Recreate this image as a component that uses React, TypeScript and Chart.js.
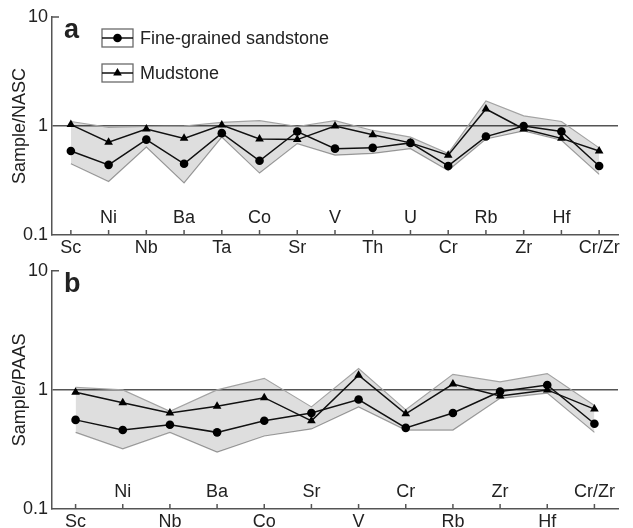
import React, { useEffect, useRef } from 'react';
import { Chart, registerables } from 'chart.js';

Chart.register(...registerables);

// ---------- Data ----------
const catsA = ['Sc', 'Ni', 'Nb', 'Ba', 'Ta', 'Co', 'Sr', 'V', 'Th', 'U', 'Cr', 'Rb', 'Zr', 'Hf', 'Cr/Zr'];
const sandA = [0.59, 0.44, 0.75, 0.45, 0.86, 0.48, 0.89, 0.62, 0.63, 0.70, 0.43, 0.80, 1.0, 0.89, 0.43];
const mudA = [1.03, 0.71, 0.94, 0.77, 1.02, 0.76, 0.75, 1.0, 0.83, 0.70, 0.54, 1.43, 0.94, 0.77, 0.59];
const upperA = [1.10, 0.97, 0.99, 1.0, 1.08, 1.12, 0.99, 1.12, 0.91, 0.79, 0.56, 1.70, 1.24, 1.10, 0.63];
const lowerA = [0.45, 0.31, 0.64, 0.30, 0.79, 0.37, 0.69, 0.54, 0.56, 0.62, 0.39, 0.76, 0.90, 0.74, 0.36];

const catsB = ['Sc', 'Ni', 'Nb', 'Ba', 'Co', 'Sr', 'V', 'Cr', 'Rb', 'Zr', 'Hf', 'Cr/Zr'];
const sandB = [0.56, 0.46, 0.51, 0.44, 0.55, 0.64, 0.83, 0.48, 0.64, 0.97, 1.10, 0.52];
const mudB = [0.955, 0.78, 0.64, 0.73, 0.86, 0.55, 1.33, 0.63, 1.12, 0.89, 1.0, 0.69];
const upperB = [1.05, 1.0, 0.66, 1.0, 1.25, 0.72, 1.51, 0.68, 1.35, 1.17, 1.37, 0.74];
const lowerB = [0.44, 0.32, 0.44, 0.30, 0.41, 0.47, 0.72, 0.46, 0.46, 0.85, 0.94, 0.44];

const yTicks = [0.1, 1, 10];
const legendLabels = ['Fine-grained sandstone', 'Mudstone'];

const FONT = '"Liberation Sans", Arial, sans-serif';
const TEXT = '#222';
const AXIS = '#555';

function drawTriangle(ctx: CanvasRenderingContext2D, x: number, y: number, r: number) {
  let rad = 0;
  ctx.beginPath();
  ctx.moveTo(x + Math.sin(rad) * r, y - Math.cos(rad) * r);
  rad += (2 * Math.PI) / 3;
  ctx.lineTo(x + Math.sin(rad) * r, y - Math.cos(rad) * r);
  rad += (2 * Math.PI) / 3;
  ctx.lineTo(x + Math.sin(rad) * r, y - Math.cos(rad) * r);
  ctx.closePath();
  ctx.fill();
}

interface PanelProps {
  cats: string[];
  sand: number[];
  mud: number[];
  upper: number[];
  lower: number[];
  title: string;
  letter: string;
  letterY: number;
  height: number;
  padTop: number;
  xHeight: number;
  legend: boolean;
}

function Panel(p: PanelProps) {
  const ref = useRef<HTMLCanvasElement | null>(null);

  useEffect(() => {
    if (!ref.current) return;
    const cats = p.cats;
    const overlay = {
      id: 'overlay',
      afterDraw(chart: any) {
        const ctx: CanvasRenderingContext2D = chart.ctx;
        const { left, top, bottom } = chart.chartArea;
        const xs = chart.scales.x;
        ctx.save();
        ctx.strokeStyle = AXIS;
        ctx.lineWidth = 1.5;
        ctx.beginPath();
        for (let i = 0; i < cats.length; i++) {
          const x = xs.getPixelForValue(i);
          ctx.moveTo(x, bottom);
          ctx.lineTo(x, bottom - 5);
        }
        ctx.moveTo(left - 0.75, top);
        ctx.lineTo(left + 7, top);
        ctx.stroke();

        ctx.fillStyle = TEXT;
        ctx.font = `18px ${FONT}`;
        ctx.textAlign = 'center';
        ctx.textBaseline = 'middle';
        for (let i = 1; i < cats.length; i += 2) {
          ctx.fillText(cats[i], xs.getPixelForValue(i), bottom - 17);
        }

        ctx.font = `bold 27px ${FONT}`;
        ctx.textAlign = 'left';
        ctx.textBaseline = 'alphabetic';
        ctx.fillText(p.letter, 64, p.letterY);

        if (p.legend) {
          const items = [
            { cy: 38, ty: 39, tri: false },
            { cy: 73, ty: 74, tri: true },
          ];
          items.forEach((it, k) => {
            ctx.strokeStyle = '#6a6a6a';
            ctx.lineWidth = 1.3;
            ctx.fillStyle = '#fff';
            ctx.fillRect(102, it.cy - 9, 31, 18);
            ctx.strokeRect(102, it.cy - 9, 31, 18);
            ctx.strokeStyle = '#111';
            ctx.lineWidth = 1.5;
            ctx.beginPath();
            ctx.moveTo(102, it.cy);
            ctx.lineTo(133, it.cy);
            ctx.stroke();
            ctx.fillStyle = '#000';
            if (it.tri) {
              drawTriangle(ctx, 117.5, it.cy, 5);
            } else {
              ctx.beginPath();
              ctx.arc(117.5, it.cy, 4.3, 0, Math.PI * 2);
              ctx.fill();
            }
            ctx.fillStyle = TEXT;
            ctx.font = `18px ${FONT}`;
            ctx.textBaseline = 'middle';
            ctx.fillText(legendLabels[k], 140, it.ty);
          });
        }
        ctx.restore();
      },
    };

    const chart = new Chart(ref.current, {
      type: 'line',
      data: {
        labels: cats,
        datasets: [
          {
            label: legendLabels[1],
            data: p.mud,
            borderColor: '#111',
            borderWidth: 1.5,
            pointStyle: 'triangle',
            pointRadius: 5,
            pointBackgroundColor: '#000',
            pointBorderColor: '#000',
            pointBorderWidth: 0,
            fill: false,
            tension: 0,
          },
          {
            label: legendLabels[0],
            data: p.sand,
            borderColor: '#111',
            borderWidth: 1.5,
            pointStyle: 'circle',
            pointRadius: 4.3,
            pointBackgroundColor: '#000',
            pointBorderColor: '#000',
            pointBorderWidth: 0,
            fill: false,
            tension: 0,
          },
          {
            label: 'upper',
            data: p.upper,
            borderColor: '#a3a3a3',
            borderWidth: 1.2,
            pointRadius: 0,
            backgroundColor: 'rgba(0,0,0,0.13)',
            fill: '+1',
            tension: 0,
          },
          {
            label: 'lower',
            data: p.lower,
            borderColor: '#a3a3a3',
            borderWidth: 1.2,
            pointRadius: 0,
            fill: false,
            tension: 0,
          },
        ],
      },
      options: {
        animation: false,
        responsive: false,
        devicePixelRatio: 1,
        layout: { padding: { top: p.padTop, right: 15, left: 0, bottom: 0 } },
        plugins: { legend: { display: false }, tooltip: { enabled: false } },
        scales: {
          x: {
            type: 'category',
            offset: true,
            grid: { display: false, drawTicks: false },
            border: { display: true, color: AXIS, width: 1.5 },
            ticks: {
              autoSkip: false,
              maxRotation: 0,
              minRotation: 0,
              padding: 2,
              color: TEXT,
              font: { size: 18, family: FONT },
              callback: (_v: any, i: number) => (i % 2 === 0 ? cats[i] : ''),
            },
            afterFit: (s: any) => {
              s.height = p.xHeight;
            },
          },
          y: {
            type: 'logarithmic',
            min: 0.1,
            max: 10,
            afterBuildTicks: (s: any) => {
              s.ticks = yTicks.map((v) => ({ value: v }));
            },
            afterFit: (s: any) => {
              s.width = 52;
            },
            ticks: {
              padding: 4,
              color: TEXT,
              font: { size: 18, family: FONT },
              callback: (v: any) => String(v),
            },
            grid: {
              drawTicks: false,
              lineWidth: 1.5,
              color: (c: any) => (c.tick && c.tick.value === 1 ? AXIS : 'rgba(0,0,0,0)'),
            },
            border: { display: true, color: AXIS, width: 1.5 },
            title: {
              display: true,
              text: p.title,
              color: TEXT,
              font: { size: 18, family: FONT },
              padding: { top: 9, bottom: 0 },
            },
          },
        },
      },
      plugins: [overlay],
    } as any);

    return () => chart.destroy();
  }, []);

  return <canvas ref={ref} width={633} height={p.height} style={{ display: 'block', width: 633, height: p.height }} />;
}

export default function App() {
  return (
    <div style={{ position: 'fixed', left: 0, top: 0, width: 633, height: 528, background: '#fff' }}>
      <Panel
        cats={catsA}
        sand={sandA}
        mud={mudA}
        upper={upperA}
        lower={lowerA}
        title="Sample/NASC"
        letter="a"
        letterY={38}
        height={256}
        padTop={17}
        xHeight={21}
        legend={true}
      />
      <Panel
        cats={catsB}
        sand={sandB}
        mud={mudB}
        upper={upperB}
        lower={lowerB}
        title="Sample/PAAS"
        letter="b"
        letterY={36}
        height={272}
        padTop={10}
        xHeight={19}
        legend={false}
      />
    </div>
  );
}
